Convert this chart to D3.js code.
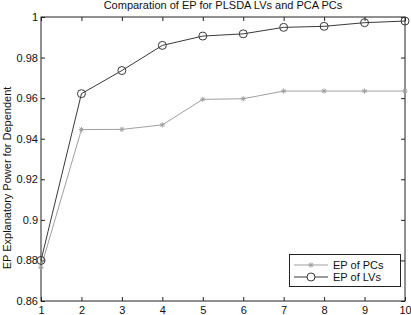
<!DOCTYPE html>
<html>
<head>
<meta charset="utf-8">
<script src="https://cdn.jsdelivr.net/npm/d3@7"></script>
<style>
  body { margin: 0; background: #fff; }
  svg { font-family: "Liberation Sans", Arial, sans-serif; }
</style>
</head>
<body>
<svg id="chart" width="411" height="315"></svg>
<script>
// data
const components = [1, 2, 3, 4, 5, 6, 7, 8, 9, 10];
const epPCs = [0.8766, 0.9445, 0.9446, 0.9468, 0.9594, 0.9597, 0.9635, 0.9635, 0.9635, 0.9635];
const epLVs = [0.8800, 0.9622, 0.9736, 0.9860, 0.9906, 0.9917, 0.9949, 0.9954, 0.9972, 0.9980];
const yTicks = [0.86, 0.88, 0.9, 0.92, 0.94, 0.96, 0.98, 1];

const svg = d3.select("#chart");
const W = 411, H = 315;
const m = { left: 41, right: 6, top: 17, bottom: 14 };

const x = d3.scaleLinear().domain([1, 10]).range([m.left, W - m.right]);
const y = d3.scaleLinear().domain([0.86, 1]).range([H - m.bottom, m.top]);

const axisColor = "#222";
const tickLen = 4;

// frame
svg.append("rect")
  .attr("x", x(1)).attr("y", y(1))
  .attr("width", x(10) - x(1)).attr("height", y(0.86) - y(1))
  .attr("fill", "none").attr("stroke", axisColor).attr("stroke-width", 1);

// axes (ticks inward, mirrored)
const fmt = d => d3.format("")(+d.toFixed(2));
const xAxis = svg.append("g").attr("transform", `translate(0,${y(0.86)})`)
  .call(d3.axisBottom(x).tickValues(components).tickSizeInner(-tickLen).tickSizeOuter(0).tickPadding(7));
const yAxis = svg.append("g").attr("transform", `translate(${x(1)},0)`)
  .call(d3.axisLeft(y).tickValues(yTicks).tickFormat(fmt).tickSizeInner(-tickLen).tickSizeOuter(0).tickPadding(3));
svg.append("g").attr("transform", `translate(0,${y(1)})`)
  .call(d3.axisTop(x).tickValues(components).tickSizeInner(-tickLen).tickSizeOuter(0).tickFormat(""));
svg.append("g").attr("transform", `translate(${x(10)},0)`)
  .call(d3.axisRight(y).tickValues(yTicks).tickSizeInner(-tickLen).tickSizeOuter(0).tickFormat(""));

svg.selectAll(".domain").remove();
svg.selectAll(".tick line").attr("stroke", axisColor);
svg.selectAll(".tick text").attr("fill", "#111").style("font-size", "11px");
xAxis.selectAll(".tick text").attr("dy", "0.5em");

// lines
const line = d3.line().x((d, i) => x(components[i])).y(d => y(d));

const pcColor = "#a0a0a0";
const lvColor = "#3a3a3a";

svg.append("path").datum(epPCs)
  .attr("d", line).attr("fill", "none").attr("stroke", pcColor).attr("stroke-width", 1);
svg.append("path").datum(epLVs)
  .attr("d", line).attr("fill", "none").attr("stroke", lvColor).attr("stroke-width", 1);

function star(g, cx, cy, color) {
  const s = 2.6;
  const gg = g.append("g").attr("stroke", color).attr("stroke-width", 1);
  gg.append("line").attr("x1", cx - s).attr("x2", cx + s).attr("y1", cy).attr("y2", cy);
  gg.append("line").attr("x1", cx).attr("x2", cx).attr("y1", cy - s).attr("y2", cy + s);
  gg.append("line").attr("x1", cx - s * 0.7).attr("x2", cx + s * 0.7).attr("y1", cy - s * 0.7).attr("y2", cy + s * 0.7);
  gg.append("line").attr("x1", cx - s * 0.7).attr("x2", cx + s * 0.7).attr("y1", cy + s * 0.7).attr("y2", cy - s * 0.7);
}

epPCs.forEach((v, i) => star(svg, x(components[i]), y(v), pcColor));

svg.append("g").selectAll("circle").data(epLVs).join("circle")
  .attr("cx", (d, i) => x(components[i])).attr("cy", d => y(d)).attr("r", 4)
  .attr("fill", "none").attr("stroke", lvColor).attr("stroke-width", 1);

// title
svg.append("text")
  .attr("x", (x(1) + x(10)) / 2).attr("y", 9)
  .attr("text-anchor", "middle").style("font-size", "11px").attr("fill", "#111")
  .text("Comparation of EP for PLSDA LVs and PCA PCs");

// y label
svg.append("text")
  .attr("transform", `translate(11,178) rotate(-90)`)
  .attr("text-anchor", "middle").style("font-size", "11px").attr("fill", "#111")
  .text("EP Explanatory Power for Dependent");

// legend
const lg = svg.append("g");
lg.append("rect").attr("x", 289.5).attr("y", 254.5).attr("width", 111).attr("height", 32)
  .attr("fill", "#fff").attr("stroke", axisColor).attr("stroke-width", 1);
const rows = [
  { label: "EP of PCs", color: pcColor, marker: "star", y: 265 },
  { label: "EP of LVs", color: lvColor, marker: "circle", y: 277 }
];
rows.forEach(r => {
  lg.append("line").attr("x1", 294).attr("x2", 328).attr("y1", r.y).attr("y2", r.y)
    .attr("stroke", r.color).attr("stroke-width", 1);
  if (r.marker === "star") star(lg, 311, r.y, r.color);
  else lg.append("circle").attr("cx", 311).attr("cy", r.y).attr("r", 4)
    .attr("fill", "#fff").attr("stroke", r.color);
  lg.append("text").attr("x", 333).attr("y", r.y).attr("dy", "0.35em")
    .style("font-size", "11px").attr("fill", "#111").text(r.label);
});
</script>
</body>
</html>
